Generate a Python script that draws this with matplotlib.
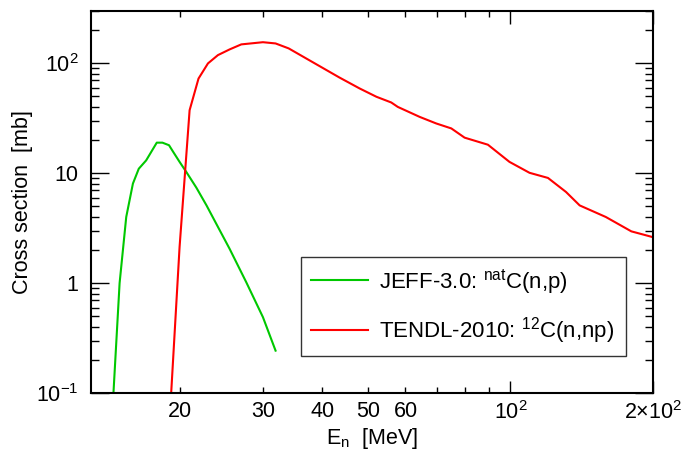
import matplotlib
matplotlib.use("Agg")
import matplotlib.pyplot as plt
from matplotlib.ticker import FixedLocator, FixedFormatter, LogLocator, NullFormatter

plt.rcParams['font.family'] = ['Liberation Sans', 'DejaVu Sans']
plt.rcParams['mathtext.fontset'] = 'custom'
plt.rcParams['mathtext.rm'] = 'Liberation Sans'
plt.rcParams['mathtext.it'] = 'Liberation Sans'
plt.rcParams['mathtext.default'] = 'regular'

# ---- data ----
jeff_E = [14.5, 14.94, 15.43, 15.94, 16.4, 17.0, 17.9, 18.4, 19.0, 19.4, 20.0,
          20.66, 21.7, 22.8, 23.9, 25.5, 27.66, 30.0, 31.9]
jeff_xs = [0.1, 1.0, 4.0, 8.06, 11.0, 13.1, 19.0, 19.0, 18.0, 15.6, 12.7,
           10.3, 7.4, 5.1, 3.48, 2.06, 1.02, 0.49, 0.243]

tendl_E = [19.2, 20.0, 21.0, 21.93, 22.96, 24.1, 25.5, 27.0, 30.0, 31.9, 34.0,
           43.5, 48.0, 52.1, 56.0, 57.8, 64.3, 69.7, 75.0, 80.0, 89.6, 99.5,
           109.7, 120, 131, 140, 159, 180, 200]
tendl_xs = [0.1, 2.13, 37.5, 72.8, 100, 119, 134, 149, 156, 152, 137,
            74.5, 59.2, 49.7, 44.1, 40.2, 32.6, 28.4, 25.6, 21.1, 18.2, 12.7,
            10.1, 9.07, 6.76, 5.1, 4.0, 2.96, 2.62]

x_major = [100, 200]
x_major_labels = [r'$10^{2}$', r'$2{\times}10^{2}$']
x_minor = [20, 30, 40, 50, 60, 70, 80, 90]
x_minor_labels = ['20', '30', '40', '50', '60', '', '', '']
y_major = [0.1, 1, 10, 100]
y_major_labels = [r'$10^{-1}$', '1', '10', r'$10^{2}$']

label_jeff = r'JEFF-3.0: $^{\mathrm{nat}}$C(n,p)'
label_tendl = r'TENDL-2010: $^{12}$C(n,np)'

fig = plt.figure(figsize=(6.92, 4.5), dpi=100)
fig.subplots_adjust(left=91/692, right=653/692, top=1-11/450, bottom=1-393/450)
ax = fig.add_subplot(111)

ax.plot(jeff_E, jeff_xs, color='#00c800', lw=1.5, label=label_jeff)
ax.plot(tendl_E, tendl_xs, color='#ff0000', lw=1.5, label=label_tendl)

ax.set_xscale('log')
ax.set_yscale('log')
ax.set_xlim(13, 200)
ax.set_ylim(0.1, 300)

ax.xaxis.set_major_locator(FixedLocator(x_major))
ax.xaxis.set_major_formatter(FixedFormatter(x_major_labels))
ax.xaxis.set_minor_locator(FixedLocator(x_minor))
ax.xaxis.set_minor_formatter(FixedFormatter(x_minor_labels))

ax.yaxis.set_major_locator(FixedLocator(y_major))
ax.yaxis.set_major_formatter(FixedFormatter(y_major_labels))
ax.yaxis.set_minor_locator(LogLocator(base=10, subs=[2, 3, 4, 5, 6, 7, 8, 9], numticks=20))
ax.yaxis.set_minor_formatter(NullFormatter())

for s in ax.spines.values():
    s.set_linewidth(1.5)

ax.tick_params(which='both', direction='in', top=True, right=True, width=1.0,
               labelsize=15.5, colors='black')
ax.tick_params(axis='x', which='major', length=9, pad=6)
ax.tick_params(axis='x', which='minor', length=4.5, pad=6)
ax.tick_params(axis='y', which='major', length=13, pad=9)
ax.tick_params(axis='y', which='minor', length=6, pad=9)

ax.set_xlabel(r'E$_{\mathrm{n}}$  [MeV]', fontsize=15.5)
ax.set_ylabel('Cross section  [mb]', fontsize=15.5)
ax.xaxis.set_label_coords(0.5, -0.118)
ax.xaxis.label.set_verticalalignment('center')
ax.yaxis.set_label_coords(-0.122, 0.5)
ax.yaxis.label.set_verticalalignment('center')

leg = ax.legend(loc='center left', bbox_to_anchor=(0.374, 0.102, 0.578, 0.249),
                mode='expand', borderaxespad=0, fontsize=16, frameon=True,
                fancybox=False, handlelength=2.57, handletextpad=0.5,
                labelspacing=0.88, borderpad=0.45)
leg.get_frame().set_edgecolor('black')
leg.get_frame().set_linewidth(1.0)

fig.savefig('out.png', dpi=100)
